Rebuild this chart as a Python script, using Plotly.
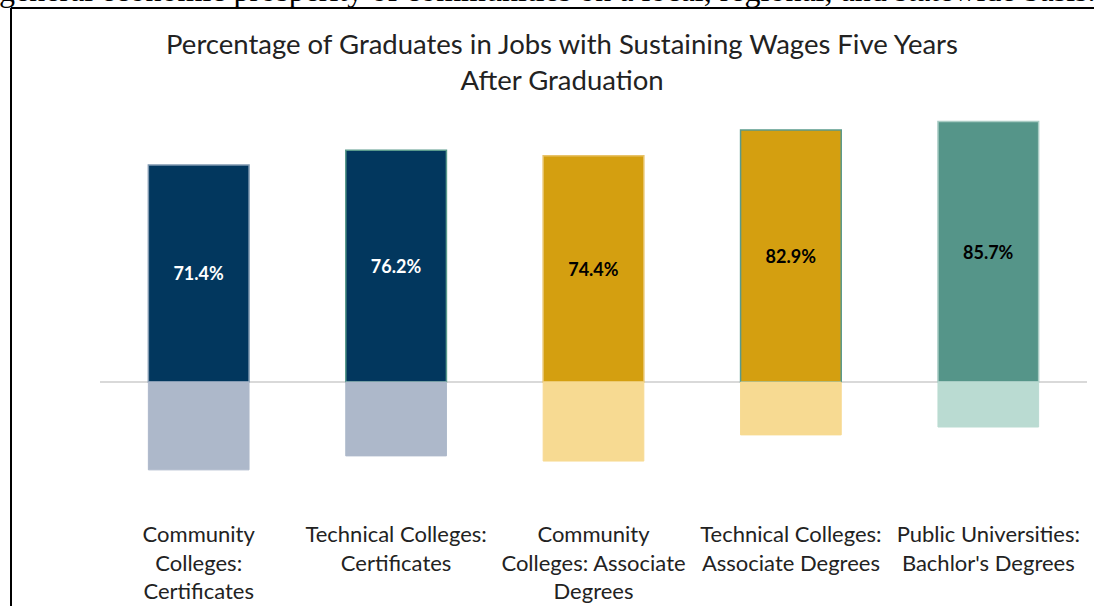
import plotly.graph_objects as go

categories = [
    "Community<br>Colleges:<br>Certificates",
    "Technical Colleges:<br>Certificates",
    "Community<br>Colleges: Associate<br>Degrees",
    "Technical Colleges:<br>Associate Degrees",
    "Public Universities:<br>Bachlor's Degrees",
]
sustaining_pct = [71.4, 76.2, 74.4, 82.9, 85.7]
remainder_pct = [28.9, 24.3, 26.0, 17.4, 14.8]
labels = ["71.4%", "76.2%", "74.4%", "82.9%", "85.7%"]

main_colors = ["#02375E", "#02375E", "#D49F10", "#D49F10", "#559589"]
light_colors = ["#ADB8CA", "#ADB8CA", "#F7DA92", "#F7DA92", "#BADBD2"]
text_colors = ["white", "white", "black", "black", "black"]
edge_colors = ["#7F98B0", "#5A9A8C", "#E8C36A", "#5A9A8C", "#A9CCC4"]

x_idx = list(range(len(categories)))

fig = go.Figure()
fig.add_trace(go.Bar(
    x=x_idx, y=sustaining_pct,
    marker=dict(color=main_colors, line=dict(color=edge_colors, width=1.5)),
    text=labels, textposition="inside", insidetextanchor="middle",
    textfont=dict(family="Lato", size=18, color=text_colors, weight="bold"),
    textangle=0, hoverinfo="skip",
))
fig.add_trace(go.Bar(
    x=x_idx, y=[-v for v in remainder_pct],
    marker=dict(color=light_colors, line=dict(color=light_colors, width=1)),
    hoverinfo="skip",
))

W, H = 1094, 606
L, R, T, B = 100, 7, 109, 103
pw, ph = W - L - R, H - T - B

def px(xf):
    return (xf - L) / pw

def py(yf):
    return (H - B - yf) / ph

fig.update_layout(
    width=W, height=H,
    margin=dict(l=L, r=R, t=T, b=B, autoexpand=False),
    barmode="relative", bargap=0.49,
    showlegend=False,
    plot_bgcolor="white", paper_bgcolor="white",
    font=dict(family="Lato", color="#222222"),
    title=dict(
        text="Percentage of Graduates in Jobs with Sustaining Wages Five Years<br>After Graduation",
        x=562 / W, xanchor="center",
        y=1 - 54 / H, yanchor="middle",
        font=dict(family="Lato", size=27.5, color="#222222"),
    ),
    xaxis=dict(
        tickmode="array", tickvals=x_idx, ticktext=categories,
        range=[-0.5, 4.5], showgrid=False, zeroline=False, showline=False,
        ticks="", tickfont=dict(family="Lato", size=22, color="#222222"),
        ticklabelstandoff=16, automargin=False,
    ),
    yaxis=dict(
        range=[-39.8, 89.8], showgrid=False, showticklabels=False, ticks="",
        zeroline=True, zerolinecolor="#D9D9D9", zerolinewidth=2, showline=False,
        automargin=False,
    ),
    shapes=[
        dict(type="line", xref="paper", yref="paper", x0=px(11), x1=px(W + 5), y0=py(8), y1=py(8),
             line=dict(color="black", width=2)),
        dict(type="line", xref="paper", yref="paper", x0=px(11), x1=px(11), y0=py(8), y1=py(H + 5),
             line=dict(color="black", width=2)),
    ],
    annotations=[
        dict(text="general economic prosperity of communities on a local, regional, and statewide basis.",
             xref="paper", yref="paper", x=px(-3), y=py(10), xanchor="left", yanchor="bottom",
             showarrow=False, font=dict(family="Liberation Serif", size=32, color="black")),
    ],
)

fig.write_html("out.html", config={"displayModeBar": False},
               post_script="document.body.style.margin='0px';")
